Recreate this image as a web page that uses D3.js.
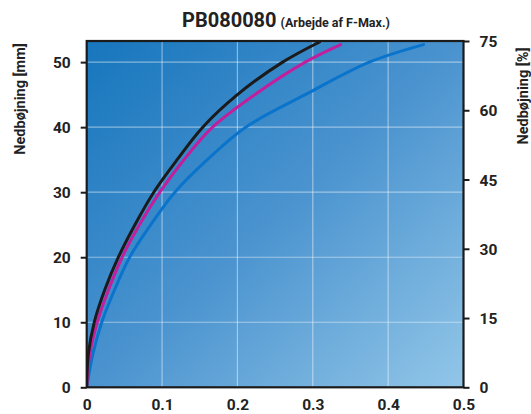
<!DOCTYPE html>
<html><head><meta charset="utf-8">
<script src="https://cdn.jsdelivr.net/npm/d3@7"></script>
<style>body{margin:0;background:#fff}svg{display:block}text{font-family:Roboto,"DejaVu Sans",sans-serif;font-weight:700;fill:#222}</style>
</head><body>
<svg id="c" width="531" height="414"></svg>
<script>
const title = "PB080080";
const subtitle = "(Arbejde af F-Max.)";
const leftLabel = "Nedbøjning [mm]";
const rightLabel = "Nedbøjning [%]";
const xTicks = [0, 0.1, 0.2, 0.3, 0.4, 0.5];
const yLeftTicks = [0, 10, 20, 30, 40, 50];
const yRightTicks = [0, 15, 30, 45, 60, 75];
// deflection levels (mm) and work read at each level
const deflection = [0, 5, 10, 15, 20, 25, 30, 35, 40, 45, 50];
const blackWork   = [0, 0.002, 0.010, 0.024, 0.042, 0.064, 0.089, 0.120, 0.154, 0.200, 0.260];
const magentaWork = [0, 0.004, 0.014, 0.029, 0.047, 0.070, 0.097, 0.129, 0.167, 0.223, 0.290];
const blueWork    = [0, 0.008, 0.020, 0.037, 0.057, 0.085, 0.117, 0.160, 0.211, 0.290, 0.375];
// curve end points [work, mm]
const blackEnd = [0.309, 53.1];
const magentaEnd = [0.337, 52.7];
const blueEnd = [0.447, 52.7];
const seriesColors = ["#0a74cc", "#c21f9c", "#1b1b1b"];

const svg = d3.select("#c");
const m = {l:86.7, r:463.5, t:41, b:387.3};
const x = d3.scaleLinear().domain([0,0.5]).range([m.l, m.r]);
const yL = d3.scaleLinear().domain([0,53.25]).range([m.b, m.t]);
const yR = d3.scaleLinear().domain([0,75]).range([m.b, m.t]);

const defs = svg.append("defs");
const g = defs.append("linearGradient").attr("id","bg").attr("x1","0%").attr("y1","0%").attr("x2","100%").attr("y2","100%");
g.append("stop").attr("offset","0%").attr("stop-color","#1776bd");
g.append("stop").attr("offset","50%").attr("stop-color","#4a93cf");
g.append("stop").attr("offset","100%").attr("stop-color","#92c6e8");
defs.append("clipPath").attr("id","clip").append("rect").attr("x",m.l).attr("y",m.t-2).attr("width",m.r-m.l).attr("height",m.b-m.t+2);

svg.append("rect").attr("x",m.l).attr("y",m.t).attr("width",m.r-m.l).attr("height",m.b-m.t).attr("fill","url(#bg)");

// grid
svg.append("g").selectAll("line").data(xTicks.filter(d=>d>0&&d<0.5)).join("line")
  .attr("x1",d=>x(d)).attr("x2",d=>x(d)).attr("y1",m.t).attr("y2",m.b)
  .attr("stroke","rgba(255,255,255,0.45)").attr("stroke-width",1.2);
svg.append("g").selectAll("line").data(yLeftTicks.filter(d=>d>0)).join("line")
  .attr("x1",m.l).attr("x2",m.r).attr("y1",d=>yL(d)).attr("y2",d=>yL(d))
  .attr("stroke","rgba(255,255,255,0.45)").attr("stroke-width",1.2);

// lines
const line = d3.line().x(d=>x(d[0])).y(d=>yL(d[1])).curve(d3.curveCatmullRom.alpha(0.5));
const lg = svg.append("g").attr("clip-path","url(#clip)");
const series = [
  deflection.map((d,i)=>[blueWork[i], d]).concat([blueEnd]),
  deflection.map((d,i)=>[magentaWork[i], d]).concat([magentaEnd]),
  deflection.map((d,i)=>[blackWork[i], d]).concat([blackEnd])
];
series.forEach((s,i)=>{
  lg.append("path").datum(s).attr("d",line).attr("fill","none")
    .attr("stroke",seriesColors[i]).attr("stroke-width",3).attr("stroke-linecap","round");
});

// frame
svg.append("rect").attr("x",m.l).attr("y",m.t).attr("width",m.r-m.l).attr("height",m.b-m.t)
  .attr("fill","none").attr("stroke","#1b1b1b").attr("stroke-width",2.2);

// axes
const axL = svg.append("g").attr("transform",`translate(${m.l},0)`)
  .call(d3.axisLeft(yL).tickValues(yLeftTicks).tickSize(6).tickPadding(10).tickFormat(d3.format("d")));
const axR = svg.append("g").attr("transform",`translate(${m.r},0)`)
  .call(d3.axisRight(yR).tickValues(yRightTicks).tickSize(6).tickPadding(10).tickFormat(d3.format("d")));
const axB = svg.append("g").attr("transform",`translate(0,${m.b})`)
  .call(d3.axisBottom(x).tickValues(xTicks).tickSize(0).tickPadding(12).tickFormat(d=>d===0?"0":d3.format(".1f")(d)));
[axL,axR,axB].forEach(a=>{
  a.select(".domain").remove();
  a.selectAll(".tick line").attr("stroke","#1b1b1b").attr("stroke-width",2);
  a.selectAll(".tick text").attr("font-size",15.5).attr("font-family","Roboto, sans-serif").attr("font-weight",700).attr("fill","#222");
});
axL.selectAll(".tick text").attr("dy","0.36em");
axR.selectAll(".tick text").attr("dy","0.36em");
axB.selectAll(".tick text").attr("dy","0.71em");

// title
const t = svg.append("text").attr("x",286).attr("y",27).attr("text-anchor","middle");
t.append("tspan").attr("font-size",20).text(title);
t.append("tspan").attr("font-size",12.5).attr("dx",4).text(subtitle);

svg.append("text").attr("transform","translate(25,99) rotate(-90)").attr("text-anchor","middle")
  .attr("font-size",14.5).text(leftLabel);
svg.append("text").attr("transform","translate(528,96) rotate(-90)").attr("text-anchor","middle")
  .attr("font-size",14.5).text(rightLabel);
</script>
</body></html>
